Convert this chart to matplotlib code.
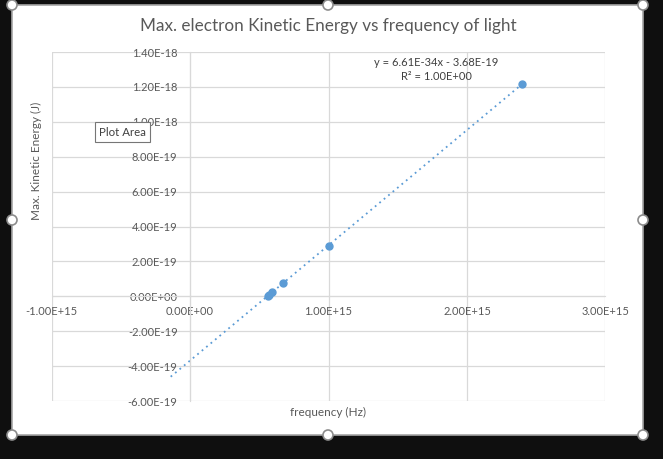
import numpy as np
import matplotlib
matplotlib.use("Agg")
import matplotlib.pyplot as plt
from matplotlib.patches import Rectangle, Circle

# measured data: frequency (Hz) vs max kinetic energy (J)
freq = [5.60e14, 5.70e14, 5.95e14, 6.70e14, 1.00e15, 2.40e15]
energy = [0.02e-19, 0.09e-19, 0.25e-19, 0.75e-19, 2.90e-19, 12.18e-19]

x_ticks = [-1e15, 0, 1e15, 2e15, 3e15]
y_ticks = [-6e-19, -4e-19, -2e-19, 0, 2e-19, 4e-19, 6e-19, 8e-19, 1e-18, 1.2e-18, 1.4e-18]

title = "Max. electron Kinetic Energy vs frequency of light"
xlabel = "frequency (Hz)"
ylabel = "Max. Kinetic Energy (J)"

blue = "#5B9BD5"
txt = "#595959"
grid = "#D9D9D9"
plt.rcParams['font.family'] = ['Lato', 'DejaVu Sans']

fig = plt.figure(figsize=(6.63, 4.59), dpi=100)
fig.patch.set_facecolor("#0f0f0f")

# white chart area (excel window)
W, H = 663, 459
def fx(px): return px / W
def fy(py): return 1 - py / H
fig.patches.append(Rectangle((fx(12), fy(435)), fx(643) - fx(12), fy(5) - fy(435),
                             transform=fig.transFigure, facecolor="white",
                             edgecolor="#a6a6a6", lw=1.2, zorder=-5))

ax = fig.add_axes([51.6 / W, 1 - 401 / H, (605.5 - 51.6) / W, (401 - 52) / H])
ax.set_facecolor("none")
ax.set_xlim(-1e15, 3e15)
ax.set_ylim(-6e-19, 1.4e-18)
ax.set_xticks(x_ticks)
ax.set_yticks(y_ticks)

def sci(v, pos=None):
    if abs(v) < 1e-30:
        v = 0.0
    return f"{v:.2E}"
ax.xaxis.set_major_formatter(sci)
ax.yaxis.set_major_formatter(sci)

ax.grid(True, color=grid, lw=0.9)
ax.set_axisbelow(True)
for s in ["top", "right"]:
    ax.spines[s].set_visible(False)
ax.spines["left"].set_position(("data", 0))
ax.spines["bottom"].set_position(("data", 0))
ax.spines["left"].set_color(grid)
ax.spines["bottom"].set_color(grid)
ax.tick_params(length=0, labelsize=8, labelcolor=txt)
ax.tick_params(axis="y", pad=9)
ax.tick_params(axis="x", pad=7)

# linear trendline with backward forecast
m, b = np.polyfit(freq, energy, 1)
xt = np.array([-1.4e14, max(freq)])
ax.plot(xt, m * xt + b, ls=(0, (1, 2.2)), color=blue, lw=1.3, zorder=2)
ax.plot(freq, energy, "o", color=blue, ms=5, zorder=3)

ax.text(0.695, 0.985, "y = 6.61E-34x - 3.68E-19\nR\u00b2 = 1.00E+00", transform=ax.transAxes,
        ha="center", va="top", fontsize=8, color="#404040", linespacing=1.3)

fig.text(fx(328), fy(26), title, ha="center", va="center", fontsize=12.3, color=txt)
fig.text(fx(328), fy(412), xlabel, ha="center", va="center", fontsize=8.5, color=txt)
fig.text(fx(36), fy(161), ylabel, ha="center", va="center", rotation=90, fontsize=8.5, color=txt)

# "Plot Area" tooltip
fig.text(fx(99), fy(132), "Plot Area", ha="left", va="center", fontsize=8.3, color="#404040",
         bbox=dict(boxstyle="square,pad=0.35", fc="white", ec="#767676", lw=0.8))

# selection handles
for hx, hy in [(12, 5), (328, 5), (643, 5), (12, 220), (643, 220), (12, 435), (328, 435), (643, 435)]:
    fig.patches.append(Circle((hx, H - hy), 5, transform=None, facecolor="white",
                              edgecolor="#8c8c8c", lw=1.2, zorder=5))

fig.savefig("out.png", dpi=100, facecolor=fig.get_facecolor())
